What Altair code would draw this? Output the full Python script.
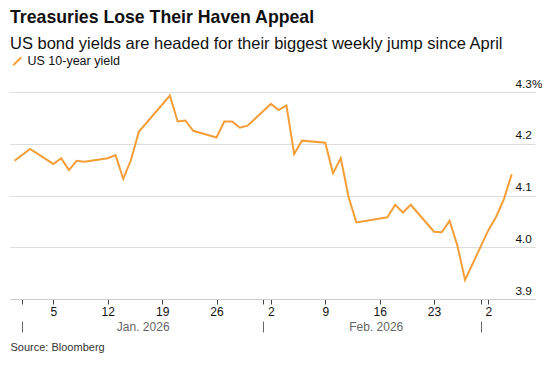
import altair as alt
import pandas as pd

ORANGE = "#F49E38"
FONT = "Liberation Sans"

dates = [
    "2025-12-31", "2026-01-02", "2026-01-05", "2026-01-06", "2026-01-07", "2026-01-08",
    "2026-01-09", "2026-01-12", "2026-01-13", "2026-01-14", "2026-01-15", "2026-01-16",
    "2026-01-20", "2026-01-21", "2026-01-22", "2026-01-23", "2026-01-26", "2026-01-27",
    "2026-01-28", "2026-01-29", "2026-01-30", "2026-02-02", "2026-02-03", "2026-02-04",
    "2026-02-05", "2026-02-06", "2026-02-09", "2026-02-10", "2026-02-11", "2026-02-12",
    "2026-02-13", "2026-02-17", "2026-02-18", "2026-02-19", "2026-02-20", "2026-02-23",
    "2026-02-24", "2026-02-25", "2026-02-26", "2026-02-27", "2026-03-02", "2026-03-03",
    "2026-03-04", "2026-03-05",
]
yields = [
    4.167, 4.190, 4.161, 4.172, 4.149, 4.167,
    4.165, 4.172, 4.178, 4.132, 4.169, 4.223,
    4.293, 4.243, 4.245, 4.225, 4.212, 4.243,
    4.243, 4.231, 4.235, 4.277, 4.265, 4.274,
    4.180, 4.206, 4.202, 4.143, 4.172, 4.097,
    4.048, 4.058, 4.082, 4.067, 4.082, 4.030,
    4.029, 4.051, 4.004, 3.937, 4.033, 4.059,
    4.093, 4.141,
]
series_name = "US 10-year yield"

day_ticks = [(2026, 1, 1), (2026, 1, 5), (2026, 1, 12), (2026, 1, 19), (2026, 1, 26),
             (2026, 2, 1), (2026, 2, 2), (2026, 2, 9), (2026, 2, 16), (2026, 2, 23),
             (2026, 3, 1), (2026, 3, 2)]
month_starts = [(2026, 1, 1), (2026, 2, 1), (2026, 3, 1)]
month_mids = [(2026, 1, 16, 12), (2026, 2, 15, 12)]
y_ticks = [3.9, 4.0, 4.1, 4.2, 4.3]


def dt(t):
    y, m, d = t[0], t[1], t[2]
    h = t[3] if len(t) > 3 else 0
    return alt.DateTime(year=y, month=m, date=d, hours=h, utc=True)


df = pd.DataFrame({"date": dates, "yield": yields, "series": series_name})

xscale = alt.Scale(type="utc", nice=False,
                   domain=[dt((2025, 12, 30, 10)), dt((2026, 3, 8, 0))])
yscale = alt.Scale(domain=[3.9, 4.3], nice=False, zero=False)

day_axis = alt.Axis(
    orient="bottom", values=[dt(t) for t in day_ticks], title=None, grid=False,
    labelExpr="utcdate(datum.value) == 1 ? '' : utcFormat(datum.value, '%-d')",
    tickSize=5, tickColor="#444", domainColor="#cccccc", labelColor="#111",
    labelFont=FONT, labelFontSize=12, labelPadding=2, labelFontWeight=500,
)
month_tick_axis = alt.Axis(
    orient="bottom", offset=22, values=[dt(t) for t in month_starts], title=None,
    grid=False, domain=False, labels=False, tickSize=11, tickColor="#666",
)
month_label_axis = alt.Axis(
    orient="bottom", offset=22, values=[dt(t) for t in month_mids],
    title="Source: Bloomberg", titleAnchor="start", titleAlign="left",
    titleFont=FONT, titleFontSize=11, titleFontWeight="normal", titleColor="#333",
    titlePadding=9, grid=False, domain=False, ticks=False,
    labelExpr="utcFormat(datum.value, '%b. %Y')", labelColor="#666",
    labelFont=FONT, labelFontSize=12, labelPadding=0,
)
y_axis = alt.Axis(
    orient="right", values=y_ticks, title=None, domain=False, ticks=False, tickSize=0,
    grid=True, gridColor="#dddddd", labelAlign="left", labelPadding=-20,
    labelBaseline="alphabetic", labelOffset=-5, labelFont=FONT, labelFontSize=11.8,
    labelColor="#111",
    labelExpr="datum.value == 4.3 ? '4.3%' : format(datum.value, '.1f')",
)

legend = alt.Legend(
    orient="none", legendX=1, legendY=-37, title=None, symbolType="M-1,1L1,-1",
    symbolSize=64, symbolStrokeWidth=2, labelFont=FONT, labelFontSize=12.5,
    labelColor="#111", padding=0, symbolOffset=0,
)

line = alt.Chart(df).mark_line(strokeWidth=2).encode(
    x=alt.X("date:T", scale=xscale, axis=day_axis),
    y=alt.Y("yield:Q", scale=yscale, axis=y_axis),
    color=alt.Color("series:N", scale=alt.Scale(range=[ORANGE]), legend=legend),
)
ticks_layer = alt.Chart(df).mark_rule(strokeOpacity=0).encode(
    x=alt.X("date:T", scale=xscale, axis=month_tick_axis),
)
labels_layer = alt.Chart(df).mark_rule(strokeOpacity=0).encode(
    x=alt.X("date:T", scale=xscale, axis=month_label_axis),
)

chart = alt.layer(line, ticks_layer, labels_layer).resolve_axis(x="independent").properties(
    width=525, height=207,
    autosize=alt.AutoSizeParams(type="none"),
    padding={"left": 2, "top": 84, "right": 7, "bottom": 57},
    title=alt.TitleParams(
        text="Treasuries Lose Their Haven Appeal",
        subtitle="US bond yields are headed for their biggest weekly jump since April",
        anchor="start", frame="group", font=FONT, fontSize=17.7, fontWeight="bold",
        color="#111", subtitleFont=FONT, subtitleFontSize=16.5, subtitleColor="#111",
        subtitlePadding=9, offset=3,
    ),
).configure_view(stroke=None)

chart.save("out.html", embed_options={"renderer": "svg", "actions": False})
